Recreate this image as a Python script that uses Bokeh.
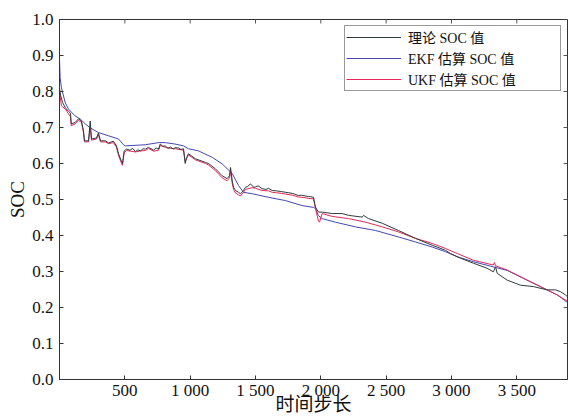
import math
from bokeh.plotting import figure
from bokeh.models import Range1d, FixedTicker, Legend, LegendItem
from bokeh.embed import file_html
from bokeh.resources import INLINE

# ---------------- data ----------------
x_min, x_max = 0, 3888
y_min, y_max = 0.0, 1.0
x_ticks = [500, 1000, 1500, 2000, 2500, 3000, 3500]
x_tick_labels = ["500", "1 000", "1 500", "2 000", "2 500", "3 000", "3 500"]
y_ticks = [0.0, 0.1, 0.2, 0.3, 0.4, 0.5, 0.6, 0.7, 0.8, 0.9, 1.0]
y_tick_labels = ["0.0", "0.1", "0.2", "0.3", "0.4", "0.5", "0.6", "0.7", "0.8", "0.9", "1.0"]

true_step = [0, 8, 23, 46, 69, 84, 90, 120, 145, 168, 184, 191, 222, 235, 245, 283, 298, 314,
             352, 375, 413, 436, 452, 472, 482, 495, 513, 540, 560, 582, 600, 620, 640, 658,
             681, 700, 720, 740, 758, 771, 790, 809, 830, 850, 870, 885, 910, 930, 949, 962,
             972, 987, 1041, 1117, 1140, 1194, 1245, 1283, 1301, 1309, 1322, 1332, 1347, 1370,
             1385, 1408, 1423, 1440, 1460, 1475, 1485, 1500, 1520, 1551, 1580, 1600, 1628,
             1660, 1700, 1730, 1750, 1781, 1800, 1829, 1850, 1880, 1906, 1920, 1944, 1959,
             1982, 2010, 2087, 2164, 2212, 2317, 2327, 2365, 2470, 2594, 2725, 2852, 2954,
             2992, 3069, 3168, 3273, 3321, 3337, 3350, 3426, 3528, 3628, 3732, 3796, 3834,
             3872, 3888]
true_soc = [0.81, 0.79, 0.77, 0.754, 0.745, 0.74, 0.71, 0.714, 0.724, 0.718, 0.69, 0.663, 0.663,
            0.718, 0.668, 0.671, 0.685, 0.663, 0.663, 0.657, 0.662, 0.649, 0.627, 0.608, 0.60,
            0.635, 0.64, 0.637, 0.642, 0.633, 0.638, 0.635, 0.641, 0.64, 0.645, 0.641, 0.637,
            0.643, 0.64, 0.654, 0.648, 0.649, 0.642, 0.646, 0.640, 0.644, 0.643, 0.639, 0.641,
            0.60, 0.616, 0.627, 0.613, 0.603, 0.60, 0.585, 0.566, 0.558, 0.566, 0.589, 0.552,
            0.534, 0.525, 0.52, 0.516, 0.525, 0.534, 0.536, 0.543, 0.539, 0.534, 0.535, 0.538,
            0.53, 0.528, 0.531, 0.525, 0.524, 0.522, 0.52, 0.519, 0.517, 0.515, 0.511, 0.512,
            0.51, 0.508, 0.508, 0.506, 0.479, 0.465, 0.465, 0.461, 0.461, 0.456, 0.451, 0.456,
            0.447, 0.434, 0.414, 0.392, 0.373, 0.359, 0.35, 0.337, 0.323, 0.309, 0.299, 0.313,
            0.295, 0.276, 0.262, 0.258, 0.249, 0.249, 0.244, 0.235, 0.23]

ekf_step = [0, 5, 15, 44, 69, 120, 158, 197, 235, 298, 375, 452, 490, 503, 656, 758, 809, 885,
            949, 987, 1064, 1169, 1245, 1322, 1370, 1408, 1475, 1600, 1730, 1857, 1944, 1959,
            1982, 2010, 2112, 2265, 2418, 2594, 2725, 2852, 2954, 3044, 3168, 3298, 3426, 3551,
            3681, 3809, 3888]
ekf_soc = [0.89, 0.838, 0.81, 0.769, 0.751, 0.732, 0.724, 0.71, 0.699, 0.686, 0.677, 0.668,
           0.652, 0.649, 0.652, 0.658, 0.658, 0.654, 0.649, 0.641, 0.635, 0.617, 0.599, 0.572,
           0.539, 0.52, 0.516, 0.506, 0.497, 0.483, 0.478, 0.475, 0.455, 0.447, 0.437, 0.424,
           0.414, 0.396, 0.382, 0.368, 0.355, 0.341, 0.327, 0.315, 0.303, 0.281, 0.258, 0.235,
           0.214]

ukf_step = [0, 15, 46, 69, 84, 90, 120, 145, 168, 184, 191, 222, 235, 245, 283, 298, 314, 352,
            375, 413, 436, 452, 472, 482, 495, 513, 582, 620, 658, 681, 720, 758, 771, 809, 850,
            885, 949, 962, 972, 987, 1041, 1117, 1140, 1194, 1245, 1283, 1301, 1309, 1322, 1332,
            1347, 1370, 1385, 1408, 1423, 1475, 1500, 1551, 1600, 1628, 1700, 1730, 1781, 1829,
            1880, 1906, 1944, 1959, 1982, 1990, 2010, 2087, 2212, 2342, 2470, 2594, 2725, 2852,
            2954, 3044, 3168, 3321, 3329, 3337, 3426, 3551, 3681, 3809, 3888]
ukf_soc = [0.80, 0.76, 0.751, 0.738, 0.73, 0.705, 0.71, 0.72, 0.714, 0.685, 0.66, 0.66, 0.70,
           0.665, 0.668, 0.68, 0.66, 0.66, 0.655, 0.658, 0.645, 0.622, 0.603, 0.595, 0.63, 0.636,
           0.632, 0.635, 0.636, 0.642, 0.634, 0.637, 0.65, 0.645, 0.642, 0.641, 0.637, 0.605,
           0.613, 0.624, 0.61, 0.60, 0.596, 0.58, 0.56, 0.552, 0.56, 0.58, 0.545, 0.528, 0.518,
           0.513, 0.51, 0.52, 0.528, 0.533, 0.531, 0.525, 0.524, 0.52, 0.517, 0.515, 0.512,
           0.507, 0.505, 0.503, 0.502, 0.475, 0.44, 0.437, 0.461, 0.453, 0.447, 0.437, 0.424,
           0.41, 0.392, 0.378, 0.364, 0.35, 0.331, 0.318, 0.325, 0.316, 0.304, 0.281, 0.258,
           0.235, 0.217]

legend_labels = ["理论 SOC 值", "EKF 估算 SOC 值", "UKF 估算 SOC 值"]
x_title = "时间步长"
y_title = "SOC"

# ---------------- styles ----------------
SERIF = "Liberation Serif, Noto Sans CJK SC"
FRAME = "#333333"
C_TRUE = "#2f3b3b"
C_EKF = "#4646b4"
C_UKF = "#e8285a"

p = figure(width=568, height=418, output_backend="svg", toolbar_location=None,
           x_range=Range1d(x_min, x_max), y_range=Range1d(y_min, y_max),
           min_border_left=59, min_border_right=1, min_border_top=19, min_border_bottom=39)
p.xgrid.visible = False
p.ygrid.visible = False
p.outline_line_color = FRAME
p.outline_line_width = 1
p.background_fill_color = "white"
p.border_fill_color = "white"

xa = p.xaxis[0]
xa.ticker = FixedTicker(ticks=x_ticks)
xa.major_label_overrides = {t: l for t, l in zip(x_ticks, x_tick_labels)}
ya = p.yaxis[0]
ya.ticker = FixedTicker(ticks=y_ticks)
ya.major_label_overrides = {t: l for t, l in zip(y_ticks, y_tick_labels)}

for ax in (xa, ya):
    ax.major_tick_in = 4
    ax.major_tick_out = 0
    ax.minor_tick_line_color = None
    ax.axis_line_color = FRAME
    ax.major_tick_line_color = FRAME
    ax.major_label_text_font = SERIF
    ax.major_label_text_font_size = "17px"
    ax.major_label_text_color = "#111111"
    ax.axis_label_text_font = SERIF
    ax.axis_label_text_font_size = "19px"
    ax.axis_label_text_font_style = "normal"
    ax.axis_label_text_color = "#111111"

xa.axis_label = x_title
xa.major_label_standoff = 1
xa.axis_label_standoff = -9
ya.axis_label = y_title
ya.major_label_standoff = 6
ya.axis_label_standoff = 1

# inward ticks on the top and right edges of the frame
p.ray(x=x_ticks, y=[y_max] * len(x_ticks), length=4, length_units="screen",
      angle=-math.pi / 2, line_color="#555555", line_width=1)
p.ray(x=[x_max] * len(y_ticks), y=y_ticks, length=4, length_units="screen",
      angle=math.pi, line_color="#555555", line_width=1)

r_ekf = p.line(ekf_step, ekf_soc, line_color=C_EKF, line_width=1)
r_ukf = p.line(ukf_step, ukf_soc, line_color=C_UKF, line_width=1)
r_true = p.line(true_step, true_soc, line_color=C_TRUE, line_width=1)

legend = Legend(items=[LegendItem(label=legend_labels[0], renderers=[r_true]),
                       LegendItem(label=legend_labels[1], renderers=[r_ekf]),
                       LegendItem(label=legend_labels[2], renderers=[r_ukf])],
                location="top_right")
legend.margin = 6
legend.padding = 1
legend.spacing = 1
legend.glyph_width = 55
legend.glyph_height = 20
legend.label_height = 20
legend.label_width = 151
legend.label_standoff = 7
legend.label_text_font = SERIF
legend.label_text_font_size = "14px"
legend.label_text_color = "#111111"
legend.border_line_color = FRAME
legend.border_line_width = 1
legend.background_fill_color = "white"
legend.background_fill_alpha = 1
p.add_layout(legend)

open("out.html", "w").write(file_html(p, INLINE))
